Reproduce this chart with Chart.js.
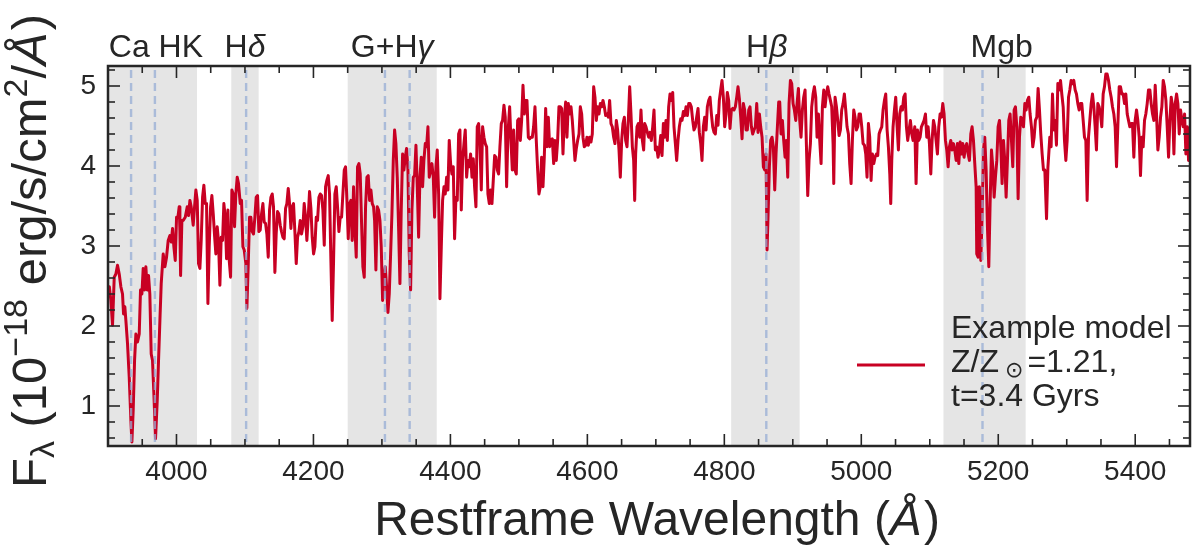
<!DOCTYPE html>
<html>
<head>
<meta charset="utf-8">
<script src="https://cdn.jsdelivr.net/npm/chart.js@4.4.1/dist/chart.umd.min.js"></script>
<style>
  html, body { margin: 0; padding: 0; background: #ffffff; }
  #wrap { width: 1193px; height: 551px; }
</style>
</head>
<body>
<div id="wrap"><canvas id="spec" width="1193" height="551"></canvas></div>
<script>
// Rest-frame wavelength grid (Angstrom) of the model spectrum
const wavelength = [
  3900.0,3902.0,3904.2,3906.6,3909.1,3911.5,3913.9,3916.4,3918.8,3921.2,3922.7,3924.6,3926.1,3928.5,3931.0,3933.4,3934.9,3936.8,3938.8,3940.7,
  3943.1,3945.6,3947.5,3949.5,3951.4,3953.4,3955.3,3957.3,3959.2,3961.1,3963.1,3965.0,3967.0,3969.4,3971.9,3973.8,3975.8,3977.7,3980.6,3983.1,
  3985.5,3987.9,3990.4,3992.3,3994.3,3996.2,3998.2,4000.1,4002.1,4004.0,4005.0,4006.0,4007.9,4009.8,4012.8,4015.7,4017.6,4019.6,4021.5,4024.4,
  4026.4,4028.3,4030.3,4032.2,4034.2,4036.1,4038.1,4040.0,4042.0,4043.9,4045.9,4047.8,4049.8,4051.7,4053.7,4055.6,4057.5,4059.5,4061.4,4063.4,
  4065.3,4067.3,4069.2,4071.2,4073.1,4075.1,4077.0,4079.0,4080.9,4082.8,4084.8,4086.7,4088.7,4090.6,
  4093.1,4095.0,4097.0,4098.9,4101.3,4102.8,4104.7,4106.7,4108.6,4110.6,4112.5,4114.5,4116.4,4118.4,4120.3,4122.3,4124.2,4126.2,4128.1,4130.1,
  4132.0,4134.0,4135.9,4137.9,4139.8,4141.7,4143.7,4145.6,4147.6,4149.5,4151.5,4153.4,4155.4,4157.3,4159.3,4161.2,4163.2,4165.1,4167.1,4169.0,
  4170.9,4172.9,4174.9,4176.8,4178.8,4180.7,4182.6,4184.6,4186.5,4188.5,4190.4,4192.4,4194.3,4196.3,4198.2,4200.2,4202.1,4204.1,4206.0,4208.0,
  4209.9,4211.9,4213.8,4215.8,4217.7,4219.6,4221.6,4223.5,4225.5,4227.4,4229.4,4231.3,4233.3,4235.2,4237.2,4239.1,4241.1,4243.0,4245.0,4246.9,
  4248.9,4250.8,4252.8,4254.7,4256.6,4258.6,4260.5,4262.5,4264.4,4266.4,4268.3,4270.3,4272.2,4274.2,4276.1,4278.1,4280.0,4282.0,4283.9,4285.9,4287.8,
  4289.3,4291.2,4293.2,4295.1,4297.1,4299.0,4301.0,4302.9,4304.9,4306.8,4308.8,4310.7,4312.7,4314.6,4316.6,4318.5,4320.4,4322.4,4324.3,4326.3,
  4328.2,4330.2,4332.1,4334.1,4336.0,4338.0,4339.9,4341.9,4343.8,4345.8,4347.7,4349.7,4351.6,4353.6,4355.5,4357.5,4359.4,4361.3,4363.3,4365.2,
  4367.2,4369.1,4371.1,4373.0,4375.0,4376.9,4378.9,4380.8,4382.8,4384.7,4386.7,4388.6,4390.6,4392.5,4394.5,4396.4,4398.3,4400.3,4402.2,4404.2,
  4406.1,4408.1,4410.0,4412.0,4413.9,4415.9,4417.8,4419.8,4421.7,4423.7,4425.6,4427.6,4429.5,4431.5,4433.4,4435.3,4437.3,4439.2,4441.2,4443.1,
  4445.1,4447.0,4449.0,4450.9,4452.9,4454.8,4456.8,4458.7,4460.7,4462.6,4464.6,4466.5,4468.5,4470.4,4472.3,4474.3,4476.2,4478.2,4480.1,4482.1,4484.0,
  4486.5,4488.4,4490.4,4492.3,4494.3,4496.2,4498.2,4500.1,4502.1,4504.0,4506.0,4507.9,4509.9,4511.8,4513.8,4515.7,4517.6,4519.6,4521.5,4523.5,
  4525.4,4527.4,4529.3,4531.3,4533.2,4535.2,4537.1,4539.1,4541.0,4543.0,4544.9,4546.9,4548.8,4550.8,4552.7,4554.6,4556.6,4558.5,4560.5,4562.4,
  4564.4,4566.3,4568.3,4570.2,4572.2,4574.1,4576.1,4578.0,4580.0,4581.9,4583.9,4585.8,4587.8,4589.7,4591.7,4593.6,4595.5,4597.5,4599.4,4601.4,
  4603.3,4605.3,4607.2,4609.2,4611.1,4613.1,4615.0,4617.0,4618.9,4620.9,4622.8,4624.8,4626.7,4628.7,4630.6,4632.5,4634.5,4636.4,4638.4,4640.3,
  4642.3,4644.2,4646.2,4648.1,4650.1,4652.0,4654.0,4655.9,4657.9,4659.8,4661.8,4663.7,4665.7,4667.6,4669.1,4670.5,4672.5,4674.4,4676.4,4678.3,4680.3,4682.2,
  4683.7,4685.6,4687.6,4689.5,4691.5,4693.4,4695.4,4697.3,4699.3,4701.2,4703.2,4705.1,4707.1,4709.0,4711.0,4712.9,4714.8,4716.8,4718.7,4720.7,
  4722.6,4724.6,4726.5,4728.5,4730.4,4732.4,4734.3,4736.3,4738.2,4740.2,4742.1,4744.1,4746.0,4748.0,4749.9,4751.8,4753.8,4755.7,4757.7,4759.6,
  4761.6,4763.5,4765.5,4767.4,4769.4,4771.3,4773.3,4775.2,4777.2,4779.1,4781.1,4783.0,4785.0,4786.9,4788.9,4790.8,4792.7,4794.7,4796.6,4798.6,
  4800.5,4802.5,4804.4,4806.4,4808.3,4810.3,4812.2,4814.2,4816.1,4818.1,4820.0,4822.0,4823.9,4825.9,4827.8,4829.7,4831.7,4833.6,4835.6,4837.5,
  4839.5,4841.4,4843.4,4845.3,4847.3,4849.2,4851.2,4853.1,4855.1,4857.0,4859.0,4860.9,4862.4,4863.8,4865.8,4867.7,4869.7,4871.6,4873.6,4875.5,4877.5,4879.4,
  4880.9,4882.8,4884.8,4886.7,4888.7,4890.6,4892.6,4894.5,4896.5,4898.4,4900.4,4902.3,4904.3,4906.2,4908.2,4910.1,4912.0,4914.0,4915.9,4917.9,
  4919.8,4921.8,4923.7,4925.7,4927.6,4929.6,4931.5,4933.5,4935.4,4937.4,4939.3,4941.3,4943.2,4945.2,4947.1,4949.0,4951.0,4952.9,4954.9,4956.8,
  4958.8,4959.8,4961.7,4963.7,4965.6,4967.6,4969.5,4971.4,4973.4,4975.3,4977.3,4979.2,4981.2,4983.1,4985.1,4987.0,4989.0,4990.9,4992.9,4994.8,
  4996.8,4998.7,5000.7,5002.6,5004.6,5006.5,5008.4,5010.4,5012.3,5014.3,5016.2,5018.2,5020.1,5022.1,5024.0,5026.0,5027.9,5029.9,5031.8,5033.8,
  5035.7,5037.7,5039.6,5041.6,5043.0,5044.5,5046.4,5048.4,5050.3,5052.3,5054.2,5056.2,5058.1,5060.1,5062.0,5064.0,5065.9,5067.8,5069.8,5071.7,5073.7,5075.6,
  5078.1,5080.0,5082.0,5083.9,5085.9,5087.8,5089.8,5091.7,5093.7,5095.6,5097.6,5099.5,5101.5,5103.4,5105.4,5107.3,5109.2,5111.2,5113.1,5115.1,
  5117.0,5119.0,5120.9,5122.9,5124.8,5126.8,5128.7,5130.7,5132.6,5134.6,5136.5,5138.5,5140.4,5142.4,5144.3,5146.2,5148.2,5150.1,5152.1,5154.0,
  5156.0,5157.9,5159.9,5161.8,5163.8,5165.7,5167.7,5168.6,5170.6,5172.5,5174.5,5176.4,5178.4,5180.3,5182.3,5184.2,5186.2,5188.1,5190.1,5192.0,
  5194.0,5195.9,5197.9,5199.8,5201.8,5203.7,5205.6,5207.6,5209.5,5211.5,5213.4,5215.4,5217.3,5219.3,5221.2,5223.2,5225.1,5227.1,5229.0,5231.0,
  5232.9,5234.9,5236.8,5238.8,5240.7,5242.6,5244.6,5246.5,5248.5,5250.4,5252.4,5254.3,5256.3,5258.2,5260.2,5262.1,5264.1,5266.0,5268.0,5270.5,5272.5,
  5275.3,5277.2,5279.2,5281.1,5283.1,5285.0,5287.0,5288.9,5290.9,5292.8,5294.8,5296.7,5298.7,5300.6,5302.6,5304.5,5306.4,5308.4,5310.3,5312.3,
  5314.2,5316.2,5318.1,5320.1,5322.0,5324.0,5325.9,5327.9,5329.8,5331.8,5333.7,5335.7,5337.6,5339.6,5341.5,5343.4,5345.4,5347.3,5349.3,5351.2,
  5353.2,5355.1,5357.1,5359.0,5361.0,5362.9,5364.9,5366.8,5368.8,5370.7,5372.7,5374.6,5376.6,5378.5,5380.5,5382.4,5384.4,5386.3,5388.3,5390.2,
  5392.1,5394.1,5396.0,5398.0,5399.9,5401.9,5403.8,5405.8,5407.7,5409.7,5411.6,5413.6,5415.5,5417.5,5419.4,5421.4,5423.3,5425.3,5427.2,5429.2,
  5431.1,5433.1,5435.0,5437.0,5438.9,5440.9,5442.8,5444.8,5446.7,5448.7,5450.6,5452.6,5454.5,5456.5,5458.4,5460.4,5462.3,5464.3,5466.2,5468.2,
  5470.1,5472.1,5474.0,5476.0,5477.9,5479.9,5481.8
];

// Model flux density, 1e-18 erg/s/cm^2/A
const flux = [
  2.46,2.49,2.32,2.01,2.61,2.65,2.76,2.65,2.49,2.40,2.15,2.24,2.07,1.78,1.36,0.82,0.55,0.95,1.57,1.90,
  1.80,1.90,2.45,2.40,2.72,2.45,2.74,2.45,2.63,2.40,1.65,1.57,1.15,0.59,1.07,1.57,2.07,2.53,2.90,2.74,
  2.86,3.07,3.13,3.05,3.22,2.99,2.82,3.36,3.36,3.49,3.20,2.63,3.32,3.32,3.36,3.49,3.38,3.57,3.49,3.26,
  3.49,3.70,3.57,2.78,2.72,3.07,3.61,3.76,3.53,3.53,2.28,2.99,3.49,3.63,3.40,3.13,2.90,3.24,3.05,2.51,
  3.11,3.07,3.53,3.36,2.84,3.45,2.82,2.61,3.70,3.65,3.24,3.65,3.86,3.78,
  3.53,3.57,2.99,2.95,2.78,2.22,2.74,3.36,3.36,3.18,3.15,3.36,3.61,3.63,3.18,3.20,3.40,3.53,3.30,3.28,
  3.15,2.86,3.45,3.61,3.65,3.49,2.67,3.15,3.43,3.40,3.26,3.18,3.11,3.09,3.47,3.53,3.72,3.53,3.22,3.49,
  3.53,3.18,2.78,3.11,3.18,3.32,3.15,3.24,3.53,3.36,3.07,3.36,3.68,3.47,3.11,2.90,2.99,3.36,3.32,3.61,
  3.65,3.63,3.45,3.01,3.74,3.82,3.88,3.65,2.82,2.07,2.82,3.65,3.74,3.49,3.18,3.36,3.36,3.65,3.95,3.99,
  3.57,3.09,3.53,3.57,3.07,3.74,3.24,2.86,3.99,4.03,3.90,3.28,2.74,2.61,3.49,3.86,3.88,3.57,3.70,3.53,3.49,
  3.32,2.70,3.49,3.45,3.32,2.99,2.32,2.61,2.74,2.49,2.17,2.40,2.90,3.40,4.07,4.45,4.28,3.86,3.24,2.53,
  3.45,4.15,3.95,4.11,4.22,3.95,2.90,2.45,3.45,3.86,3.88,4.26,3.74,3.11,3.86,4.11,3.74,4.07,4.28,4.24,
  4.49,3.86,3.95,4.03,3.86,3.36,3.99,4.20,3.65,2.34,2.99,3.57,3.74,3.65,3.86,3.70,4.32,4.03,3.90,3.99,
  3.09,3.61,3.57,4.40,4.45,3.45,4.07,4.28,4.45,3.86,4.07,3.99,4.15,3.86,4.09,3.74,3.49,4.49,4.53,4.28,
  3.70,4.49,4.36,4.28,4.24,3.65,3.53,3.70,3.53,3.82,4.13,4.11,3.95,3.90,4.24,4.53,4.57,4.76,4.61,3.74,4.40,
  4.74,4.32,3.95,4.45,3.95,3.90,4.57,4.59,4.32,4.57,5.01,4.65,4.82,4.82,4.36,4.34,4.36,4.36,4.49,4.74,
  4.32,3.95,3.65,3.74,4.11,3.74,4.11,4.72,4.24,4.61,4.24,4.32,4.34,4.03,4.32,4.07,4.32,4.74,4.74,4.72,
  4.15,4.59,4.80,4.36,4.78,4.65,4.74,4.57,4.32,4.07,4.22,4.32,4.40,4.74,4.65,4.36,4.24,4.26,4.36,4.26,
  4.36,4.30,4.40,4.99,4.86,4.57,4.74,4.65,4.78,4.74,4.82,4.74,4.63,4.65,4.61,4.82,4.53,4.49,4.36,4.28,
  4.57,4.45,4.20,3.86,4.32,4.53,4.61,4.32,4.24,4.57,4.99,4.65,4.24,4.07,3.57,4.15,4.49,4.53,4.36,4.70,4.32,4.20,
  4.53,4.49,4.42,4.36,4.42,4.32,4.49,4.70,4.20,4.24,4.11,4.20,4.38,4.13,4.53,4.36,4.57,4.32,4.74,4.90,
  4.82,4.92,4.49,4.28,4.07,4.32,4.49,4.59,4.57,4.68,4.63,4.74,4.63,4.78,4.78,4.74,4.57,4.45,4.49,4.61,
  4.72,4.42,4.28,4.07,4.49,4.61,4.45,4.74,4.82,4.86,4.65,4.49,4.42,4.40,4.63,4.51,4.82,4.95,5.07,4.86,
  4.49,4.65,4.92,4.82,4.47,4.70,4.72,4.70,4.74,4.86,4.99,4.84,4.61,4.34,4.78,4.70,4.45,4.45,4.70,4.74,
  4.49,4.40,4.45,4.49,4.78,4.42,4.65,4.49,4.36,3.99,3.95,4.15,2.95,3.36,3.99,4.32,4.36,4.24,3.70,4.15,4.49,4.80,
  4.80,4.40,4.57,4.32,4.11,4.32,3.86,4.78,5.07,5.03,4.78,4.70,4.57,4.78,4.97,4.57,4.36,4.70,4.86,4.95,
  4.28,3.63,4.07,4.28,4.74,4.90,4.99,4.86,4.36,4.65,4.32,4.03,4.74,4.95,4.74,4.90,4.99,4.90,4.82,4.74,
  4.28,3.78,4.86,4.74,4.57,4.38,4.45,4.70,4.78,4.90,4.70,4.49,4.40,4.03,3.78,4.32,4.70,4.61,4.45,4.49,
  4.65,4.65,4.49,4.28,4.26,4.15,3.86,4.53,4.36,3.82,4.15,4.03,4.11,4.15,4.13,4.40,4.45,4.49,4.70,4.82,
  4.90,4.45,4.24,3.90,3.53,4.07,4.49,4.70,4.86,4.49,4.20,4.65,4.74,4.70,4.86,4.90,4.49,4.32,4.45,4.57,4.40,4.32,
  4.49,3.78,4.45,4.32,4.36,4.49,4.53,4.57,4.65,4.36,4.49,4.28,3.90,4.32,4.57,4.49,4.32,4.15,4.49,4.65,
  4.61,4.78,4.65,4.32,4.20,3.99,4.24,4.32,4.20,4.28,4.20,4.07,4.28,4.03,4.30,4.15,4.28,4.11,4.24,4.28,
  4.15,4.07,4.40,4.49,4.32,4.03,3.74,2.90,2.86,3.74,2.82,3.36,4.20,4.36,3.95,3.24,2.74,3.53,4.20,3.99,
  3.61,3.86,4.07,4.49,4.57,4.24,3.78,4.32,4.07,3.61,4.07,4.57,4.65,4.32,3.99,4.70,4.74,4.49,3.59,4.36,
  4.61,4.57,4.49,4.78,4.70,4.82,4.86,4.65,4.49,4.24,4.36,4.57,4.61,4.97,4.70,4.40,4.15,3.95,3.95,3.34,3.98,
  4.36,4.24,4.90,4.45,4.57,4.26,5.03,4.95,5.07,4.90,4.74,4.32,4.07,4.32,4.86,4.95,5.07,5.03,5.07,4.95,
  4.90,4.78,4.70,4.78,4.78,4.57,4.36,4.32,3.57,4.36,4.57,4.78,4.90,4.74,4.49,4.20,4.78,4.74,4.65,4.49,
  4.90,4.99,5.15,5.15,5.07,4.95,4.86,4.74,4.65,4.49,3.99,4.49,4.99,4.99,4.90,4.90,4.78,4.90,4.65,4.57,
  4.49,4.53,4.53,4.11,4.57,4.70,4.57,4.36,3.88,4.36,4.24,4.57,4.65,4.78,4.95,4.95,4.78,4.65,4.57,5.01,
  4.65,4.20,4.36,4.61,4.74,5.07,4.99,4.82,4.49,4.11,4.57,4.86,4.74,4.15,4.78,4.90,4.78,4.40,4.70,4.57,
  4.49,4.65,4.15,4.49,4.07,4.40,4.70
];

// Spectral feature windows (shaded) and their labels
const bandStart   = [3900, 4080, 4250, 4810, 5120];
const bandEnd     = [4030, 4120, 4380, 4910, 5240];
const bandLabel   = [['Ca HK', ''], ['H', 'δ'], ['G+H', 'γ'], ['H', 'β'], ['Mgb', '']];
const bandLabelAt = [3970, 4100, 4315, 4862, 5205];

// Individual absorption lines (dashed markers)
const featureLines = [3933.7, 3968.5, 4101.7, 4304.4, 4340.5, 4861.3, 5177.0];

// Axis tick labels
const xTickLabels = [4000, 4200, 4400, 4600, 4800, 5000, 5200, 5400];
const yTickLabels = [1, 2, 3, 4, 5];

const X_MIN = 3900, X_MAX = 5480, Y_MIN = 0.5, Y_MAX = 5.25;
const X_MINOR = 50, Y_MINOR = 0.2;

const RED  = 'rgb(200, 0, 35)';
const INK  = '#262626';
const BAND = '#e5e5e5';
const DASH = 'rgba(150, 172, 212, 0.75)';
const FONT = '"Liberation Sans", Arial, "DejaVu Sans", sans-serif';

function fontOf(size, style) {
  return (style || 'normal') + ' ' + size + 'px ' + FONT;
}

// Draw a row of text pieces (different sizes / offsets) one after another
function drawRuns(ctx, runs, x, y, align) {
  let total = 0;
  runs.forEach(r => {
    ctx.font = fontOf(r.size, r.style);
    r.w = ctx.measureText(r.text).width + (r.gap || 0);
    total += r.w;
  });
  let cx = align === 'center' ? x - total / 2 : x;
  runs.forEach(r => {
    ctx.font = fontOf(r.size, r.style);
    ctx.fillText(r.text, cx, y + (r.dy || 0));
    cx += r.w;
  });
}

const decorations = {
  id: 'decorations',
  beforeDatasetsDraw(chart) {
    const { ctx, chartArea: a, scales: { x } } = chart;
    ctx.save();
    ctx.fillStyle = BAND;
    for (let i = 0; i < bandStart.length; i++) {
      const x0 = Math.max(a.left, x.getPixelForValue(bandStart[i]));
      const x1 = Math.min(a.right, x.getPixelForValue(bandEnd[i]));
      ctx.fillRect(x0, a.top, x1 - x0, a.bottom - a.top);
    }
    ctx.restore();
  },
  afterDatasetsDraw(chart) {
    const { ctx, chartArea: a, scales: { x, y } } = chart;
    ctx.save();
    // dashed line markers
    ctx.strokeStyle = DASH;
    ctx.lineWidth = 2.4;
    ctx.setLineDash([8, 5]);
    featureLines.forEach(w => {
      const px = x.getPixelForValue(w);
      ctx.beginPath();
      ctx.moveTo(px, a.top + 4);
      ctx.lineTo(px, a.bottom);
      ctx.stroke();
    });
    ctx.setLineDash([]);

    // frame
    ctx.strokeStyle = INK;
    ctx.lineWidth = 2.5;
    ctx.strokeRect(a.left, a.top, a.right - a.left, a.bottom - a.top);

    // inward ticks on all four sides
    ctx.lineWidth = 1.6;
    const tick = (x0, y0, x1, y1) => { ctx.beginPath(); ctx.moveTo(x0, y0); ctx.lineTo(x1, y1); ctx.stroke(); };
    for (let v = X_MIN; v <= X_MAX + 1e-6; v += X_MINOR) {
      const major = xTickLabels.includes(v);
      const len = major ? 12 : 7;
      const px = x.getPixelForValue(v);
      if (px <= a.left + 1 || px >= a.right - 1) continue;
      tick(px, a.bottom, px, a.bottom - len);
      tick(px, a.top, px, a.top + len);
    }
    for (let k = 0; ; k++) {
      const v = Math.round((0.6 + k * Y_MINOR) * 10) / 10;
      if (v > Y_MAX) break;
      const major = yTickLabels.includes(v);
      const len = major ? 12 : 7;
      const py = y.getPixelForValue(v);
      tick(a.left, py, a.left + len, py);
      tick(a.right, py, a.right - len, py);
    }
    ctx.restore();
  },
  afterDraw(chart) {
    const { ctx, chartArea: a, scales: { x } } = chart;
    ctx.save();
    ctx.fillStyle = INK;
    ctx.textBaseline = 'alphabetic';

    // feature names above the frame
    for (let i = 0; i < bandLabel.length; i++) {
      const [plain, greek] = bandLabel[i];
      const runs = [{ text: plain, size: 32 }];
      if (greek) runs.push({ text: greek, size: 32, style: 'italic' });
      drawRuns(ctx, runs, x.getPixelForValue(bandLabelAt[i]), 57, 'center');
    }

    // x-axis title
    drawRuns(ctx, [
      { text: 'Restframe Wavelength (', size: 48 },
      { text: 'Å', size: 48, style: 'italic', gap: 2 },
      { text: ')', size: 48 }
    ], (a.left + a.right) / 2 + 8, 535, 'center');

    // y-axis title (rotated)
    ctx.save();
    ctx.translate(46, 251);
    ctx.rotate(-Math.PI / 2);
    drawRuns(ctx, [
      { text: 'F', size: 49 },
      { text: 'λ', size: 34, dy: 8 },
      { text: ' (10', size: 49 },
      { text: '−18', size: 34, dy: -19 },
      { text: ' erg/s/cm', size: 49 },
      { text: '2', size: 34, dy: -19 },
      { text: '/', size: 49 },
      { text: 'Å', size: 49, style: 'italic', gap: 2 },
      { text: ')', size: 49 }
    ], 0, 0, 'center');
    ctx.restore();

    // legend
    ctx.strokeStyle = RED;
    ctx.lineWidth = 3;
    ctx.beginPath();
    ctx.moveTo(857, 365);
    ctx.lineTo(925, 365);
    ctx.stroke();
    drawRuns(ctx, [{ text: 'Example model', size: 32 }], 951, 338, 'left');
    drawRuns(ctx, [
      { text: 'Z/Z', size: 32, gap: 6 },
      { text: '⊙', size: 22, dy: 5, gap: 4 },
      { text: '=1.21,', size: 32 }
    ], 951, 372, 'left');
    drawRuns(ctx, [{ text: 't=3.4 Gyrs', size: 32 }], 951, 406, 'left');
    ctx.restore();
  }
};

const points = wavelength.map((w, i) => ({ x: w, y: flux[i] }));

new Chart(document.getElementById('spec'), {
  type: 'scatter',
  data: {
    datasets: [{
      label: 'Example model',
      data: points,
      showLine: true,
      borderColor: RED,
      borderWidth: 3,
      borderJoinStyle: 'round',
      pointRadius: 0,
      tension: 0,
      fill: false
    }]
  },
  options: {
    responsive: false,
    animation: false,
    devicePixelRatio: 1,
    layout: { padding: { left: 0, right: 3, top: 66, bottom: 0 } },
    plugins: { legend: { display: false }, tooltip: { enabled: false } },
    scales: {
      x: {
        type: 'linear', min: X_MIN, max: X_MAX,
        grid: { display: false, drawTicks: false },
        border: { display: false },
        afterBuildTicks: s => { s.ticks = xTickLabels.map(v => ({ value: v })); },
        afterFit: s => { s.height = 105; },
        ticks: { font: { family: FONT, size: 28 }, color: INK, padding: 9, maxRotation: 0, autoSkip: false,
                 callback: v => String(v) }
      },
      y: {
        type: 'linear', min: Y_MIN, max: Y_MAX,
        grid: { display: false, drawTicks: false },
        border: { display: false },
        afterBuildTicks: s => { s.ticks = yTickLabels.map(v => ({ value: v })); },
        afterFit: s => { s.width = 108; },
        ticks: { font: { family: FONT, size: 28 }, color: INK, padding: 12, autoSkip: false,
                 callback: v => String(v) }
      }
    }
  },
  plugins: [decorations]
});
</script>
</body>
</html>
